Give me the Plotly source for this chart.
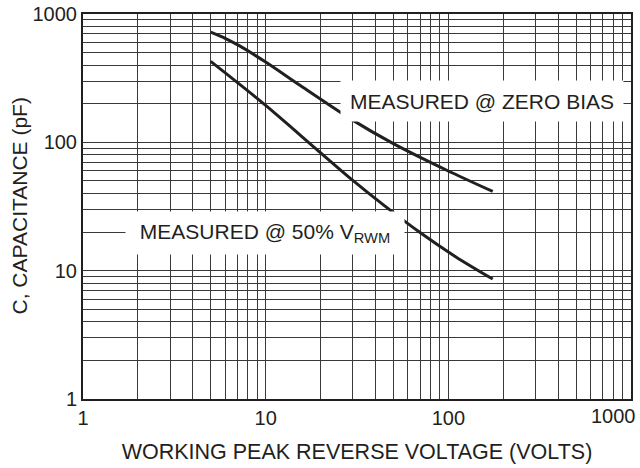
import plotly.graph_objects as go

# Data
zero_bias_v = [5, 6, 7.2, 10, 15.4, 29, 50, 98, 175]
zero_bias_c = [722, 647, 564, 422, 278, 153, 97.7, 60.6, 41.4]

half_vrwm_v = [5, 10, 19, 30, 45, 70, 110, 175]
half_vrwm_c = [427, 194, 88.2, 50.5, 31.8, 19.8, 12.8, 8.6]

decades = [1, 10, 100, 1000]
decade_labels = ["1", "10", "100", "1000"]
minor_vals = [m * d for d in [1, 10, 100] for m in range(2, 10)]

ink = "#231f20"
grid = "#3a3a3a"
font = "Liberation Sans, Arial, sans-serif"

fig = go.Figure()
fig.add_trace(go.Scatter(x=zero_bias_v, y=zero_bias_c, mode="lines",
                         line=dict(color=ink, width=3, shape="spline", smoothing=0.8),
                         showlegend=False, hoverinfo="skip"))
fig.add_trace(go.Scatter(x=half_vrwm_v, y=half_vrwm_c, mode="lines",
                         line=dict(color=ink, width=3, shape="spline", smoothing=0.8),
                         showlegend=False, hoverinfo="skip"))

axis_common = dict(
    type="log", range=[0, 3],
    showgrid=True, gridcolor=grid, gridwidth=1, zeroline=False,
    showline=True, linecolor=ink, linewidth=2, mirror=True, ticks="",
    minor=dict(tickmode="array", tickvals=minor_vals, showgrid=True,
               gridcolor=grid, gridwidth=1, ticks=""),
    tickfont=dict(size=20, color=ink, family=font), automargin=False,
)

# x axis: last decade label is drawn separately, pulled inward to stay on the page
fig.update_xaxes(**axis_common, tickmode="array", tickvals=decades[:-1],
                 ticktext=decade_labels[:-1],
                 title=dict(text="WORKING PEAK REVERSE VOLTAGE (VOLTS)",
                            font=dict(size=21.5, color=ink, family=font), standoff=16))
fig.update_yaxes(**axis_common, tickmode="array", tickvals=decades,
                 ticktext=decade_labels)

fig.add_annotation(x=3, y=0, xref="x", yref="paper", yanchor="top",
                   text=decade_labels[-1], showarrow=False, xshift=-18, yshift=-4,
                   font=dict(size=20, color=ink, family=font))

fig.add_annotation(x=0, y=0.5, xref="paper", yref="paper", xanchor="center",
                   yanchor="middle", xshift=-64, textangle=-90,
                   text="C, CAPACITANCE (pF)", showarrow=False,
                   font=dict(size=21, color=ink, family=font))

fig.add_annotation(x=2.184, y=2.319, xref="x", yref="y",
                   text="MEASURED @ ZERO BIAS", showarrow=False,
                   bgcolor="white", width=280, height=38,
                   font=dict(size=21, color=ink, family=font))
fig.add_annotation(x=0.996, y=1.292, xref="x", yref="y",
                   text="MEASURED @ 50% V<sub>RWM</sub>", showarrow=False,
                   bgcolor="white", width=276, height=40,
                   font=dict(size=21, color=ink, family=font))

fig.update_layout(
    width=640, height=468,
    margin=dict(l=83, r=9, t=14, b=69),
    paper_bgcolor="white", plot_bgcolor="white",
    font=dict(family=font, color=ink),
)

fig.write_html("out.html", config={"displayModeBar": False},
               post_script="document.body.style.margin='0';")
